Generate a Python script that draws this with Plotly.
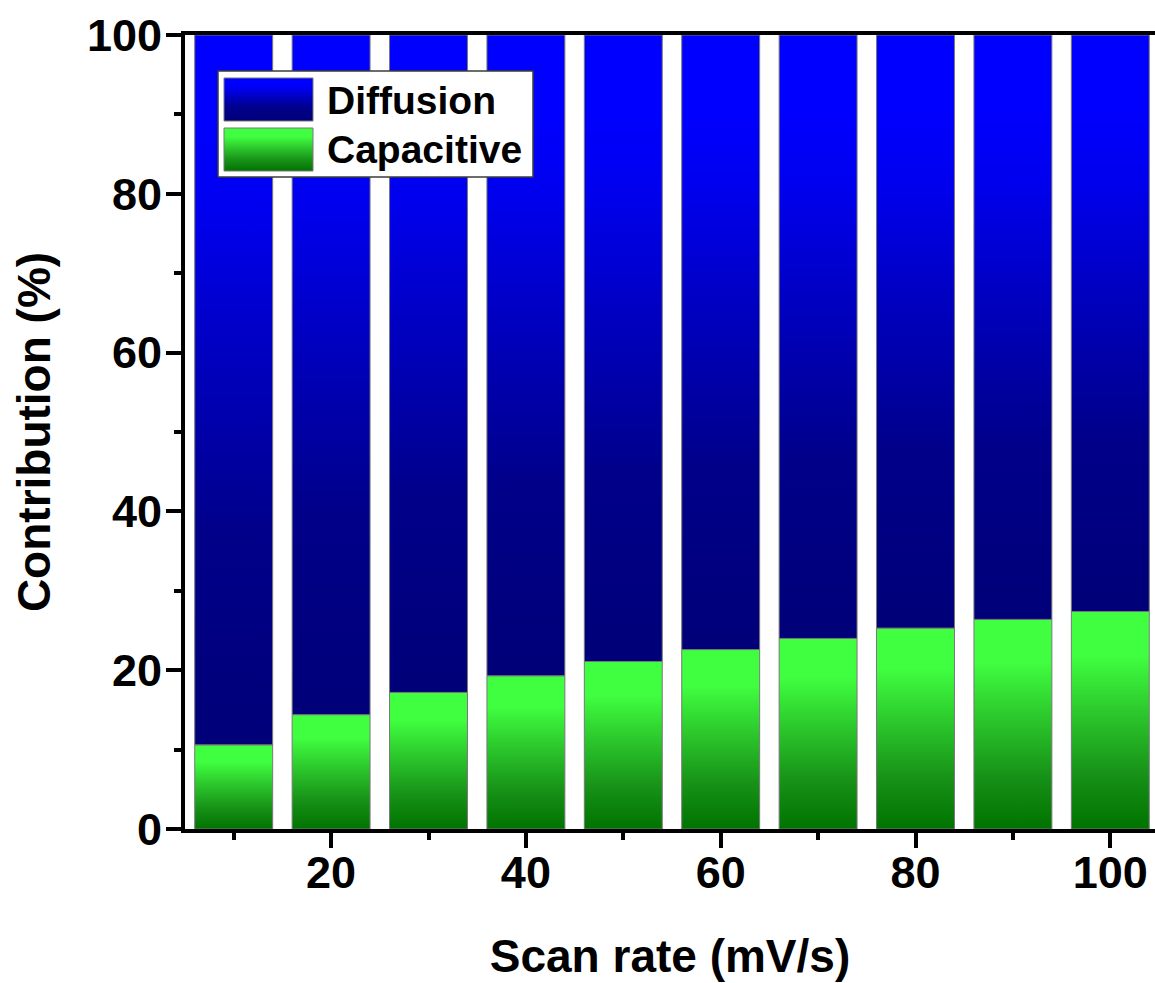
import plotly.graph_objects as go

# ---- data ----
scan_rate = [10, 20, 30, 40, 50, 60, 70, 80, 90, 100]
capacitive = [10.6, 14.4, 17.2, 19.3, 21.1, 22.6, 24.0, 25.3, 26.4, 27.4]
diffusion = [89.4, 85.6, 82.8, 80.7, 78.9, 77.4, 76.0, 74.7, 73.6, 72.6]
series_names = ["Diffusion", "Capacitive"]
x_tick_vals = [20, 40, 60, 80, 100]
y_tick_vals = [0, 20, 40, 60, 80, 100]

# ---- styles ----
BAR_W = 8.0
FONT = "Liberation Sans, Arial, sans-serif"
BLUE_SCALE = [[0, "#000078"], [0.3, "#00008A"], [0.55, "#0000C0"], [0.75, "#0000EE"], [0.88, "#0000FF"], [1, "#0000FF"]]
GREEN_SCALE = [[0, "#007300"], [0.25, "#179117"], [0.55, "#2DCB2D"], [0.8, "#40FF40"], [1, "#40FF40"]]
EDGE = dict(color="rgb(120,120,120)", width=1)

fig = go.Figure()


def bar_trace(xc, base, top, scale, xaxis="x", yaxis="y", half=BAR_W / 2):
    return go.Scatter(
        x=[xc - half, xc + half, xc + half, xc - half, xc - half],
        y=[base, base, top, top, base],
        mode="lines", fill="toself",
        fillgradient=dict(type="vertical", colorscale=scale, start=base, stop=top),
        line=EDGE, showlegend=False, hoverinfo="skip",
        xaxis=xaxis, yaxis=yaxis,
    )


for xr, c, d in zip(scan_rate, capacitive, diffusion):
    fig.add_trace(bar_trace(xr, 0, c, GREEN_SCALE))
    fig.add_trace(bar_trace(xr, c, c + d, BLUE_SCALE))

# ---- layout geometry (pixels) ----
W, H = 1155, 983
L, R, T, B = 185, 1155, 35, 829
X_RANGE = [5, 5 + (R - L) / 9.74]


def px(xs):
    return (xs - L) / (R - L)


def py(ys):
    return (B - ys) / (B - T)


box = [px(218), px(533), py(177), py(71)]
fig.add_trace(go.Scatter(
    x=[box[0], box[1], box[1], box[0], box[0]],
    y=[box[2], box[2], box[3], box[3], box[2]],
    mode="lines", fill="toself", fillcolor="white",
    line=dict(color="rgb(60,60,60)", width=1.5),
    showlegend=False, hoverinfo="skip", xaxis="x2", yaxis="y2"))

sw_x0, sw_x1 = px(224), px(313)
swatches = [(series_names[0], 78, 121, BLUE_SCALE, 100), (series_names[1], 128, 171, GREEN_SCALE, 149)]
for name, yt, yb, scale, ytext in swatches:
    fig.add_trace(go.Scatter(
        x=[sw_x0, sw_x1, sw_x1, sw_x0, sw_x0],
        y=[py(yb), py(yb), py(yt), py(yt), py(yb)],
        mode="lines", fill="toself",
        fillgradient=dict(type="vertical", colorscale=scale, start=py(yb), stop=py(yt)),
        line=EDGE, showlegend=False, hoverinfo="skip", xaxis="x2", yaxis="y2"))
    fig.add_annotation(x=px(325), y=py(ytext), xref="paper", yref="paper",
                       text=name, showarrow=False, xanchor="left", yanchor="middle",
                       font=dict(family=FONT, size=39, weight="bold", color="black"))

tick_font = dict(family=FONT, size=45, weight="bold", color="black")
title_font = dict(family=FONT, size=46, weight="bold", color="black")

fig.update_layout(
    width=W, height=H,
    margin=dict(l=L, r=W - R, t=T, b=H - B, pad=0),
    paper_bgcolor="white", plot_bgcolor="white",
    showlegend=False,
    xaxis=dict(
        range=X_RANGE, tickmode="array", tickvals=x_tick_vals,
        ticks="outside", ticklen=15, tickwidth=4, tickcolor="black",
        minor=dict(ticks="outside", ticklen=7, tickwidth=4, tickcolor="black", dtick=10, tick0=0),
        showline=True, linewidth=4, linecolor="black", mirror=True,
        showgrid=False, zeroline=False, tickfont=tick_font,
        ticklabeloverflow="allow", ticklabelstandoff=-14,
        title=dict(text="Scan rate (mV/s)", font=title_font, standoff=44),
    ),
    yaxis=dict(
        range=[0, 100], tickmode="array", tickvals=y_tick_vals,
        ticks="outside", ticklen=15, tickwidth=4, tickcolor="black",
        minor=dict(ticks="outside", ticklen=7, tickwidth=4, tickcolor="black", dtick=10, tick0=0),
        showline=True, linewidth=4, linecolor="black",
        showgrid=False, zeroline=False, tickfont=tick_font,
        ticklabeloverflow="allow", ticklabelstandoff=-5,
        title=dict(text="Contribution (%)", font=title_font, standoff=23),
    ),
    xaxis2=dict(overlaying="x", range=[0, 1], visible=False, fixedrange=True),
    yaxis2=dict(overlaying="y", range=[0, 1], visible=False, fixedrange=True),
)

fig.write_html(
    "out.html",
    config={"displayModeBar": False, "staticPlot": True},
    post_script="document.body.style.margin='0';document.body.style.overflow='hidden';",
)
